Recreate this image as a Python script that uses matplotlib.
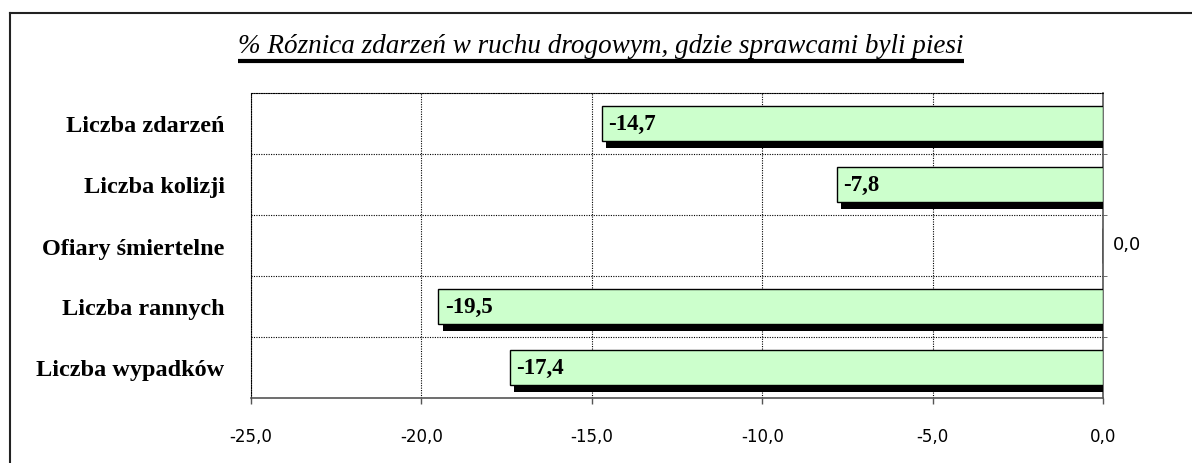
import matplotlib
matplotlib.use("Agg")
import matplotlib.pyplot as plt
import matplotlib.patheffects as pe
from matplotlib.lines import Line2D
from matplotlib.ticker import FuncFormatter, FixedLocator

# ---- data ----
categories = ["Liczba zdarzeń", "Liczba kolizji", "Ofiary śmiertelne",
              "Liczba rannych", "Liczba wypadków"]
values = [-14.7, -7.8, 0.0, -19.5, -17.4]
title = "% Róznica zdarzeń w ruchu drogowym, gdzie sprawcami byli piesi"
x_ticks = [-25.0, -20.0, -15.0, -10.0, -5.0, 0.0]

def pl(v):
    return f"{v:.1f}".replace(".", ",")

W, H = 1192, 464
fig = plt.figure(figsize=(W / 100, H / 100), dpi=100)
fig.patch.set_facecolor("white")

serif = ["Liberation Serif", "DejaVu Serif"]

# outer chart border (top and left edges only; the rest runs off the picture)
bx, by = 9.5 / W, 1 - 13.5 / H
fig.add_artist(Line2D([bx, 1.01], [by, by], transform=fig.transFigure,
                      color="#222222", linewidth=1.5))
fig.add_artist(Line2D([bx, bx], [-0.01, by], transform=fig.transFigure,
                      color="#222222", linewidth=1.5))

left, right, top, bottom = 251, 1103, 94, 399
ax = fig.add_axes([left / W, 1 - bottom / H, (right - left) / W, (bottom - top) / H])

n = len(categories)
ypos = list(range(n))[::-1]  # top to bottom

bars = ax.barh(ypos, values, height=0.57, color="#CCFFCC", edgecolor="black",
               linewidth=1.0, zorder=3)
for b in bars:
    b.set_path_effects([pe.SimplePatchShadow(offset=(3, -5), shadow_rgbFace="black",
                                             alpha=1.0), pe.Normal()])

ax.set_xlim(-25, 0)
ax.set_ylim(-0.5, n - 0.5)

# data labels
for y, v in zip(ypos, values):
    if v != 0:
        ax.annotate(pl(v), (v, y), xytext=(4.5, 0), textcoords="offset points",
                    ha="left", va="center", fontsize=16.5, fontweight="bold",
                    family=serif, zorder=5)
    else:
        ax.annotate(pl(v), (0, y), xytext=(7, 1), textcoords="offset points",
                    ha="left", va="center", fontsize=13, family="DejaVu Sans",
                    annotation_clip=False)

# axes styling
ax.set_xticks(x_ticks)
ax.xaxis.set_major_formatter(FuncFormatter(lambda v, p: pl(v)))
ax.tick_params(axis="x", direction="out", length=4, width=1, color="#555555",
               pad=17, labelsize=12)
for lab in ax.get_xticklabels():
    lab.set_family("DejaVu Sans")

ax.set_yticks(ypos)
ax.set_yticklabels(categories, family=serif, fontsize=17.5, fontweight="bold")
ax.tick_params(axis="y", which="major", length=0, pad=19)
ax.yaxis.set_minor_locator(FixedLocator([i + 0.5 for i in range(n - 1)]))
ax.tick_params(axis="y", which="minor", left=False, right=True, direction="out",
               length=3, color="#555555")

ax.grid(True, axis="x", which="major", linestyle=(0, (1, 1.2)), color="black",
        linewidth=0.8, zorder=0)
ax.grid(True, axis="y", which="minor", linestyle=(0, (1, 1.2)), color="black",
        linewidth=0.8, zorder=0)

for s in ["top", "left"]:
    ax.spines[s].set_linestyle((0, (1, 1.2)))
    ax.spines[s].set_linewidth(0.8)
    ax.spines[s].set_color("black")
for s in ["bottom", "right"]:
    ax.spines[s].set_color("#555555")
    ax.spines[s].set_linewidth(1.2)

# title with underline
t = fig.text(601 / W, 1 - 47 / H, title, ha="center", va="center",
             fontsize=19.5, style="italic", family=serif)
fig.canvas.draw()
bb = t.get_window_extent()
fig.add_artist(Line2D([bb.x0 / W, bb.x1 / W], [1 - 61.5 / H, 1 - 61.5 / H],
                      transform=fig.transFigure, color="black", linewidth=3,
                      solid_capstyle="butt"))

fig.savefig("out.png", dpi=100)
